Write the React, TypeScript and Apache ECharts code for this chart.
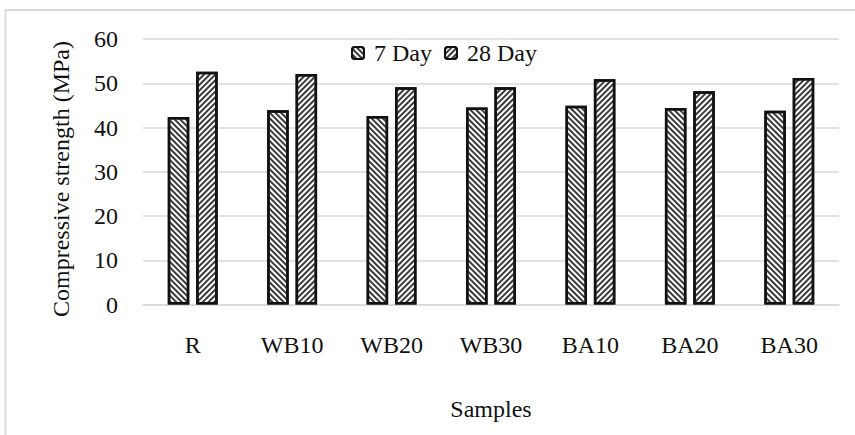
import React, { useEffect, useRef } from 'react';
import * as echarts from 'echarts';

const categories = ['R', 'WB10', 'WB20', 'WB30', 'BA10', 'BA20', 'BA30'];
const seriesNames = ['7 Day', '28 Day'];
const day7 = [42.4, 43.9, 42.6, 44.5, 44.9, 44.4, 43.8];
const day28 = [52.6, 52.1, 49.1, 49.1, 50.9, 48.2, 51.2];
const yMin = 0;
const yMax = 60;
const yInterval = 10;
const yTitle = 'Compressive strength (MPa)';
const xTitle = 'Samples';

const FONT = "'Liberation Serif', 'Times New Roman', serif";
const FS = 24;

function decal(rotation: number) {
  return {
    symbol: 'rect',
    symbolSize: 1,
    dashArrayX: [1, 0],
    dashArrayY: [2, 2],
    rotation,
    color: '#3a3a3a',
  };
}

export default function App() {
  const ref = useRef<HTMLDivElement>(null);
  useEffect(() => {
    document.body.style.margin = '0';
    if (!ref.current) return;
    const chart = echarts.init(ref.current, null, { renderer: 'svg' });
    const barStyle = (rot: number) => ({
      color: '#ffffff',
      borderColor: '#111111',
      borderWidth: 2.5,
      decal: decal(rot),
    });
    chart.setOption({
      animation: false,
      backgroundColor: '#ffffff',
      textStyle: { fontFamily: FONT },
      graphic: [
        {
          type: 'rect',
          shape: { x: 5.5, y: 10, width: 900, height: 500 },
          style: { fill: 'none', stroke: '#d9d9d9', lineWidth: 2 },
          silent: true,
        },
        {
          type: 'text',
          x: 61,
          y: 179,
          rotation: Math.PI / 2,
          style: {
            text: yTitle,
            fontFamily: FONT,
            fontSize: FS,
            fill: '#111',
            align: 'center',
            verticalAlign: 'middle',
          },
          silent: true,
        },
      ],
      legend: {
        left: 346,
        top: 36,
        itemWidth: 12,
        itemHeight: 12,
        itemGap: 12,
        textStyle: { fontFamily: FONT, fontSize: FS, color: '#111', padding: [0, 0, 0, 5] },
        data: seriesNames,
      },
      grid: { left: 143, right: 16, top: 39, bottom: 130.5, containLabel: false },
      xAxis: {
        type: 'category',
        data: categories,
        axisLine: { show: true, lineStyle: { color: '#d9d9d9', width: 1.5 } },
        axisTick: { show: false },
        axisLabel: { fontFamily: FONT, fontSize: FS, color: '#111', margin: 28 },
        name: xTitle,
        nameLocation: 'middle',
        nameGap: 92,
        nameTextStyle: { fontFamily: FONT, fontSize: FS, color: '#111' },
      },
      yAxis: {
        type: 'value',
        min: yMin,
        max: yMax,
        interval: yInterval,
        axisLine: { show: false },
        axisTick: { show: false },
        splitLine: { lineStyle: { color: '#d9d9d9', width: 1.5 } },
        axisLabel: { fontFamily: FONT, fontSize: FS, color: '#111', margin: 25 },
      },
      series: [
        {
          name: seriesNames[0],
          type: 'bar',
          data: day7,
          barWidth: 21.5,
          barGap: '32%',
          itemStyle: barStyle(Math.PI / 4),
        },
        {
          name: seriesNames[1],
          type: 'bar',
          data: day28,
          barWidth: 21.5,
          itemStyle: barStyle(-Math.PI / 4),
        },
      ],
    });
    return () => chart.dispose();
  }, []);
  return <div ref={ref} style={{ width: 855, height: 435 }} />;
}
